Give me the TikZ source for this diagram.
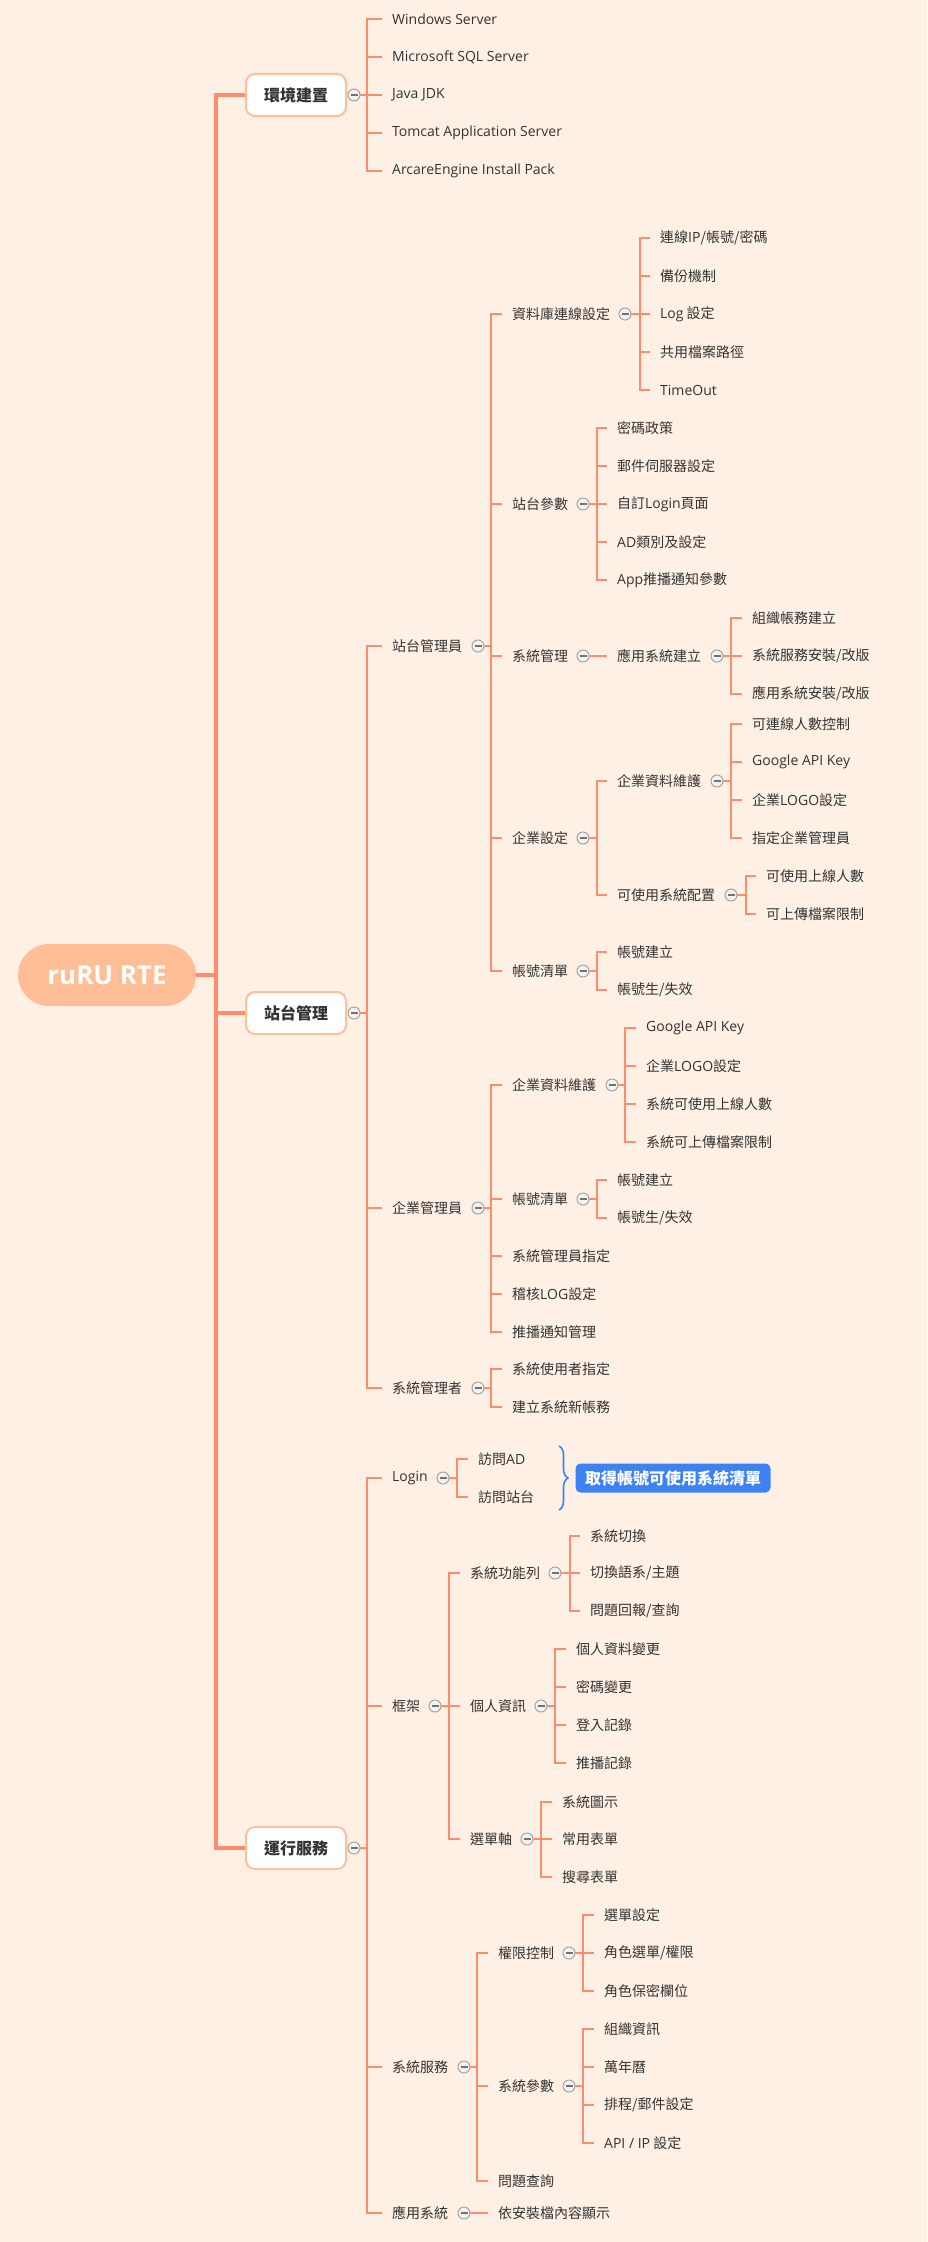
\documentclass[tikz,border=0pt]{standalone}
\usepackage{fontspec}
\setmainfont{Noto Sans CJK TC}
\newfontfamily\os{Open Sans}
\usetikzlibrary{decorations.pathreplacing}
\definecolor{bg}{HTML}{FEF0E5}
\definecolor{ln}{HTML}{FF8C6C}
\definecolor{rootc}{HTML}{FFBE96}
\definecolor{boxb}{HTML}{FFBF9A}
\definecolor{txt}{HTML}{333333}
\definecolor{blu}{HTML}{3C82F2}
\definecolor{cgr}{HTML}{A3A3A3}
\tikzset{
 t/.style={anchor=west, xshift=-10pt, inner xsep=10pt, inner ysep=1pt, text=txt, font=\fontsize{14}{16}\selectfont},
 topbox/.style={draw=boxb, line width=2pt, fill=white, rounded corners=9pt, minimum width=100pt, minimum height=42pt, inner sep=0pt, text=txt, font=\fontsize{16}{18}\selectfont\bfseries},
 coll/.style={circle, draw=cgr, fill=gray!10, line width=1pt, minimum size=12pt, inner sep=0pt, outer sep=0pt,
   path picture={\draw[cgr!70!black, line width=1.4pt] ([xshift=-3.5pt]path picture bounding box.center) -- ([xshift=3.5pt]path picture bounding box.center);}},
 trunk/.style={draw=ln, line width=3.5pt},
 lvtwo/.style={draw=ln, line width=2.4pt},
 br/.style={draw=ln, line width=2pt},
}
\begin{document}
\begin{tikzpicture}[x=1pt,y=-1pt]
\path[fill=bg] (0,0) rectangle (927,2242);
\useasboundingbox (0,0) rectangle (927,2242);

% root
\node[fill=rootc, rounded corners=31pt, minimum width=178pt, minimum height=62pt, inner sep=0pt, text=white, font=\os\fontsize{26}{30}\selectfont\bfseries] (root) at (107,975) {ruRU RTE};
\coordinate (rj) at (216,975);

% top level
\node[topbox] (b1) at (296,95) {環境建置};
\node[coll] (cb1) at (354,95) {};
\node[topbox] (b2) at (296,1013) {站台管理};
\node[coll] (cb2) at (354,1013) {};
\node[topbox] (b3) at (296,1848) {運行服務};
\node[coll] (cb3) at (354,1848) {};
\foreach \b in {b1,b2,b3} \draw[trunk] (rj) |- (\b.west);
\draw[draw=ln, line width=4.5pt] (root.east) -- (rj);

% ===== 環境建置 =====
\node[t] (w1) at (392,19) {{\os Windows Server}};
\node[t] (w2) at (392,57) {{\os Microsoft SQL Server}};
\node[t] (w3) at (392,95) {{\os Java JDK}};
\node[t] (w4) at (392,133) {{\os Tomcat Application Server}};
\node[t] (w5) at (392,171) {{\os ArcareEngine Install Pack}};
\foreach \n in {w1,w2,w3,w4,w5} \draw[lvtwo] (cb1.east) -- ++(7,0) |- (\n.west);

% ===== 站台管理 =====
\node[t] (s1) at (392,646) {站台管理員};
\node[coll] (cs1) at (478,646) {};
\node[t] (s2) at (392,1208) {企業管理員};
\node[coll] (cs2) at (478,1208) {};
\node[t] (s3) at (392,1388) {系統管理者};
\node[coll] (cs3) at (478,1388) {};
\foreach \n in {s1,s2,s3} \draw[lvtwo] (cb2.east) -- ++(7,0) |- (\n.west);

% 站台管理員
\node[t] (a1) at (512,314) {資料庫連線設定};
\node[coll] (ca1) at (625,314) {};
\node[t] (a2) at (512,504) {站台參數};
\node[coll] (ca2) at (583,504) {};
\node[t] (a3) at (512,656) {系統管理};
\node[coll] (ca3) at (583,656) {};
\node[t] (a4) at (512,838) {企業設定};
\node[coll] (ca4) at (583,838) {};
\node[t] (a5) at (512,971) {帳號清單};
\node[coll] (ca5) at (583,971) {};
\foreach \n in {a1,a2,a3,a4,a5} \draw[br] (cs1.east) -- ++(7,0) |- (\n.west);

\node[t] (a11) at (660,238) {連線{\os IP}/帳號/密碼};
\node[t] (a12) at (660,276) {備份機制};
\node[t] (a13) at (660,314) {{\os Log} 設定};
\node[t] (a14) at (660,352) {共用檔案路徑};
\node[t] (a15) at (660,390) {{\os TimeOut}};
\foreach \n in {a11,a12,a13,a14,a15} \draw[br] (ca1.east) -- ++(9,0) |- (\n.west);

\node[t] (a21) at (617,428) {密碼政策};
\node[t] (a22) at (617,466) {郵件伺服器設定};
\node[t] (a23) at (617,504) {自訂{\os Login}頁面};
\node[t] (a24) at (617,542) {{\os AD}類別及設定};
\node[t] (a25) at (617,580) {{\os App}推播通知參數};
\foreach \n in {a21,a22,a23,a24,a25} \draw[br] (ca2.east) -- ++(8,0) |- (\n.west);

\node[t] (a31) at (617,656) {應用系統建立};
\node[coll] (ca31) at (717,656) {};
\draw[br] (ca3.east) -- (a31.west);
\node[t] (a311) at (752,618) {組織帳務建立};
\node[t] (a312) at (752,656) {系統服務安裝/改版};
\node[t] (a313) at (752,694) {應用系統安裝/改版};
\foreach \n in {a311,a312,a313} \draw[br] (ca31.east) -- ++(8,0) |- (\n.west);

\node[t] (a41) at (617,781) {企業資料維護};
\node[coll] (ca41) at (717,781) {};
\node[t] (a42) at (617,895) {可使用系統配置};
\node[coll] (ca42) at (731,895) {};
\foreach \n in {a41,a42} \draw[br] (ca4.east) -- ++(8,0) |- (\n.west);
\node[t] (a411) at (752,724) {可連線人數控制};
\node[t] (a412) at (752,762) {{\os Google API Key}};
\node[t] (a413) at (752,800) {企業{\os LOGO}設定};
\node[t] (a414) at (752,838) {指定企業管理員};
\foreach \n in {a411,a412,a413,a414} \draw[br] (ca41.east) -- ++(8,0) |- (\n.west);
\node[t] (a421) at (766,876) {可使用上線人數};
\node[t] (a422) at (766,914) {可上傳檔案限制};
\foreach \n in {a421,a422} \draw[br] (ca42.east) -- ++(9,0) |- (\n.west);

\node[t] (a51) at (617,952) {帳號建立};
\node[t] (a52) at (617,990) {帳號生/失效};
\foreach \n in {a51,a52} \draw[br] (ca5.east) -- ++(8,0) |- (\n.west);

% 企業管理員
\node[t] (e1) at (512,1085) {企業資料維護};
\node[coll] (ce1) at (612,1085) {};
\node[t] (e2) at (512,1199) {帳號清單};
\node[coll] (ce2) at (583,1199) {};
\node[t] (e3) at (512,1256) {系統管理員指定};
\node[t] (e4) at (512,1294) {稽核{\os LOG}設定};
\node[t] (e5) at (512,1332) {推播通知管理};
\foreach \n in {e1,e2,e3,e4,e5} \draw[br] (cs2.east) -- ++(7,0) |- (\n.west);
\node[t] (e11) at (646,1028) {{\os Google API Key}};
\node[t] (e12) at (646,1066) {企業{\os LOGO}設定};
\node[t] (e13) at (646,1104) {系統可使用上線人數};
\node[t] (e14) at (646,1142) {系統可上傳檔案限制};
\foreach \n in {e11,e12,e13,e14} \draw[br] (ce1.east) -- ++(7,0) |- (\n.west);
\node[t] (e21) at (617,1180) {帳號建立};
\node[t] (e22) at (617,1218) {帳號生/失效};
\foreach \n in {e21,e22} \draw[br] (ce2.east) -- ++(8,0) |- (\n.west);

% 系統管理者
\node[t] (f1) at (512,1369) {系統使用者指定};
\node[t] (f2) at (512,1407) {建立系統新帳務};
\foreach \n in {f1,f2} \draw[br] (cs3.east) -- ++(7,0) |- (\n.west);

% ===== 運行服務 =====
\node[t] (r1) at (392,1478) {{\os Login}};
\node[coll] (cr1) at (443,1478) {};
\node[t] (r2) at (392,1706) {框架};
\node[coll] (cr2) at (435,1706) {};
\node[t] (r3) at (392,2067) {系統服務};
\node[coll] (cr3) at (464,2067) {};
\node[t] (r4) at (392,2213) {應用系統};
\node[coll] (cr4) at (464,2213) {};
\foreach \n in {r1,r2,r3,r4} \draw[lvtwo] (cb3.east) -- ++(7,0) |- (\n.west);

% Login
\node[t] (l1) at (478,1459) {訪問{\os AD}};
\node[t] (l2) at (478,1497) {訪問站台};
\foreach \n in {l1,l2} \draw[br] (cr1.east) -- ++(8,0) |- (\n.west);
\coordinate (bt) at (559,1446);
\coordinate (bb) at (559,1510);
\draw[blu, line width=1.6pt, decorate, decoration={brace, amplitude=9pt}] (bt) -- (bb);
\node[fill=blu, rounded corners=5pt, minimum width=195pt, minimum height=29pt, inner sep=0pt, text=white, font=\fontsize{16}{18}\selectfont\bfseries] (note) at (673,1478) {取得帳號可使用系統清單};

% 框架
\node[t] (g1) at (470,1573) {系統功能列};
\node[coll] (cg1) at (555,1573) {};
\node[t] (g2) at (470,1706) {個人資訊};
\node[coll] (cg2) at (541,1706) {};
\node[t] (g3) at (470,1839) {選單軸};
\node[coll] (cg3) at (527,1839) {};
\foreach \n in {g1,g2,g3} \draw[br] (cr2.east) -- ++(8,0) |- (\n.west);
\node[t] (g11) at (590,1536) {系統切換};
\node[t] (g12) at (590,1573) {切換語系/主題};
\node[t] (g13) at (590,1611) {問題回報/查詢};
\foreach \n in {g11,g12,g13} \draw[br] (cg1.east) -- ++(9,0) |- (\n.west);
\node[t] (g21) at (576,1649) {個人資料變更};
\node[t] (g22) at (576,1687) {密碼變更};
\node[t] (g23) at (576,1725) {登入記錄};
\node[t] (g24) at (576,1763) {推播記錄};
\foreach \n in {g21,g22,g23,g24} \draw[br] (cg2.east) -- ++(8,0) |- (\n.west);
\node[t] (g31) at (562,1802) {系統圖示};
\node[t] (g32) at (562,1839) {常用表單};
\node[t] (g33) at (562,1877) {搜尋表單};
\foreach \n in {g31,g32,g33} \draw[br] (cg3.east) -- ++(8,0) |- (\n.west);

% 系統服務
\node[t] (h1) at (498,1953) {權限控制};
\node[coll] (ch1) at (569,1953) {};
\node[t] (h2) at (498,2086) {系統參數};
\node[coll] (ch2) at (569,2086) {};
\node[t] (h3) at (498,2181) {問題查詢};
\foreach \n in {h1,h2,h3} \draw[br] (cr3.east) -- ++(7,0) |- (\n.west);
\node[t] (h11) at (604,1915) {選單設定};
\node[t] (h12) at (604,1953) {角色選單/權限};
\node[t] (h13) at (604,1991) {角色保密欄位};
\foreach \n in {h11,h12,h13} \draw[br] (ch1.east) -- ++(8,0) |- (\n.west);
\node[t] (h21) at (604,2029) {組織資訊};
\node[t] (h22) at (604,2067) {萬年曆};
\node[t] (h23) at (604,2105) {排程/郵件設定};
\node[t] (h24) at (604,2143) {{\os API / IP} 設定};
\foreach \n in {h21,h22,h23,h24} \draw[br] (ch2.east) -- ++(8,0) |- (\n.west);

% 應用系統
\node[t] (k1) at (498,2213) {依安裝檔內容顯示};
\draw[br] (cr4.east) -- (k1.west);
\end{tikzpicture}
\end{document}
